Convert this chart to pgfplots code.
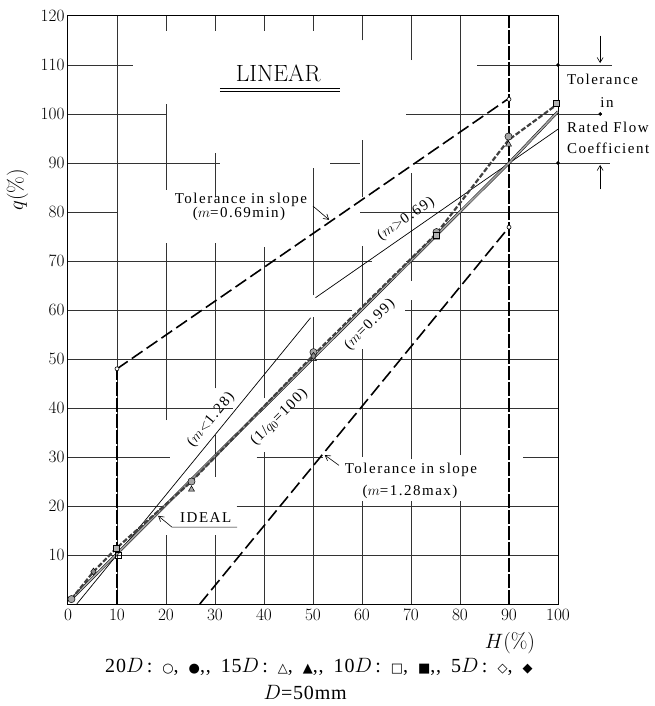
\documentclass[border=0pt]{standalone}
\usepackage{fontspec}
\usepackage{pgfplots}
\pgfplotsset{compat=1.18}
\usetikzlibrary{arrows.meta}
\newfontfamily\sym{DejaVu Sans}
\newfontfamily\annfont{Liberation Serif}[LetterSpace=10]
\newfontfamily\capfont{Liberation Serif}[LetterSpace=4]
\newcommand\ann{\annfont\fontsize{15}{17}\selectfont}
\newcommand\hseg[3]{\draw[gl] (axis cs:#2,#1) -- (axis cs:#3,#1);}
\newcommand\vseg[3]{\draw[gl] (axis cs:#1,#2) -- (axis cs:#1,#3);}
\newcommand\sy[1]{{\sym\fontsize{13}{14}\selectfont #1}}
\tikzset{gl/.style={line width=0.6pt, black!80},
  barb/.style={-{Straight Barb[length=5pt,width=6pt]}, line width=0.6pt}}
\begin{document}
\begin{tikzpicture}
\begin{axis}[
  scale only axis, width=490pt, height=588pt,
  xmin=0, xmax=100, ymin=0, ymax=120,
  xtick={0,10,...,100}, ytick={10,20,...,120},
  major tick length=0pt,
  axis line style={line width=1pt},
  tick label style={font=\fontsize{17.5}{20}\selectfont},
  xticklabel style={yshift=-2pt},
  clip=false,
]
% ---- grid (with the gaps of the reference) ----
\hseg{10}{0}{100}
\hseg{20}{0}{20}\hseg{20}{34.4}{100}
\hseg{30}{0}{20.8}\hseg{30}{38.5}{52}\hseg{30}{92.9}{100}
\hseg{40}{0}{33.7}\hseg{40}{45.3}{100}
\hseg{50}{0}{100}
\hseg{60}{0}{58}\hseg{60}{68.8}{100}
\hseg{70}{0}{62}\hseg{70}{69}{100}
\hseg{80}{0}{10.3}\hseg{80}{59.6}{100}
\hseg{90}{0}{31}\hseg{90}{53.5}{59.6}\hseg{90}{70.4}{110.6}
\hseg{100}{0}{20}\hseg{100}{69}{109}
\hseg{110}{0}{13.3}\hseg{110}{83.5}{111}
\vseg{10}{0}{120}
\vseg{20}{0}{14}\vseg{20}{37.5}{73.7}\vseg{20}{84.5}{102}\vseg{20}{117}{120}
\vseg{30}{0}{14}\vseg{30}{26}{34.5}\vseg{30}{44}{73.7}\vseg{30}{83}{92}\vseg{30}{117}{120}
\vseg{40}{0}{31}\vseg{40}{42}{72.9}\vseg{40}{117}{120}
\vseg{50}{0}{58.6}\vseg{50}{63}{89}\vseg{50}{117}{120}
\vseg{60}{0}{21}\vseg{60}{30}{52}\vseg{60}{60}{73}\vseg{60}{83}{94.7}\vseg{60}{115}{120}
\vseg{70}{0}{21}\vseg{70}{29.5}{62}\vseg{70}{66}{88}\vseg{70}{111}{120}
\vseg{80}{0}{21}\vseg{80}{30.4}{120}
% ---- tolerance limits ----
\addplot[black, line width=1.4pt, dash pattern=on 14pt off 2pt] coordinates {(10,0) (10,48)};
\addplot[black, line width=1.2pt, dash pattern=on 14pt off 2pt] coordinates {(90,0) (90,120)};
\addplot[black, line width=1.6pt, dash pattern=on 13pt off 5pt] coordinates {(10,48) (89.7,103)};
\addplot[black, line width=1.6pt, dash pattern=on 13pt off 5pt] coordinates {(26.9,0) (90,76.9)};
\addplot[only marks, mark=*, mark size=2pt, mark options={fill=white, draw=black, line width=0.6pt}] coordinates {(10,48) (90,103) (90,76.9)};
% ---- slope lines ----
\addplot[black, line width=0.7pt] coordinates {(1.8,0) (49.5,58.4)};
\addplot[black, line width=0.7pt] coordinates {(50.5,62.5) (100,96.9)};
% ---- ideal line (m=0.99) ----
\addplot[black, line width=0.5pt, double=black!35, double distance=1.6pt] coordinates {(0.7,1) (90,90) (100,100.5)};
% ---- measured data ----
\addplot[black!75, line width=2.2pt, dash pattern=on 5pt off 2pt] coordinates {(0.7,1) (5.2,6.6) (9.9,11.4) (25.2,25) (50.1,50.8) (75.2,75.6) (89.9,94.7) (99.6,101.8)};
\addplot[only marks, mark=*, mark size=3.6pt, mark options={fill=black!35, draw=black, line width=0.5pt}] coordinates {(0.7,1) (25.2,25) (50.1,51.4) (75.2,75.9) (89.9,95.4)};
\addplot[only marks, mark=triangle*, mark size=3.4pt, mark options={fill=black!35, draw=black, line width=0.5pt}] coordinates {(25.2,23.4) (50.1,50) (75.2,74.8) (89.9,93.8)};
\addplot[only marks, mark=square*, mark size=3pt, mark options={fill=black!30, draw=black, line width=0.5pt}] coordinates {(9.9,11.4) (75.2,75.2) (99.6,102.2)};
\addplot[only marks, mark=square, mark size=2.8pt, mark options={fill=white, draw=black, line width=0.6pt}] coordinates {(10.3,10)};
\addplot[only marks, mark=diamond*, mark size=3.6pt, mark options={fill=black!45, draw=black, line width=0.5pt}] coordinates {(5.2,6.6) (50.1,50.6)};
% ---- right annotation ----
\addplot[only marks, mark=*, mark size=1.6pt, black] coordinates {(100,110) (108.6,100) (100,90)};
\draw[barb] (axis cs:108.6,116) -- (axis cs:108.6,110.4);
\draw[barb] (axis cs:108.6,84.6) -- (axis cs:108.6,89.6);
\node[font=\ann, anchor=west, inner sep=0pt] at (axis cs:101.8,107) {Tolerance};
\node[font=\ann, inner sep=0pt] at (axis cs:110,102.4) {in};
\node[font=\ann, anchor=west, inner sep=0pt] at (axis cs:101.8,97.3) {Rated Flow};
\node[font=\ann, anchor=west, inner sep=0pt] at (axis cs:101.8,93) {Coefficient};
% ---- text labels ----
\node[font=\fontsize{23.5}{26}\selectfont, inner sep=0pt] at (axis cs:42.9,108.3) {LINEAR};
\draw[line width=0.6pt] (axis cs:31,105.3) -- (axis cs:55.5,105.3);
\draw[line width=0.6pt] (axis cs:31,104.7) -- (axis cs:55.5,104.7);
\node[font=\ann, inner sep=0pt] at (axis cs:35.3,82.4) {Tolerance in slope};
\node[font=\ann, inner sep=0pt] at (axis cs:34.9,79.7) {($m$=0.69min)};
\draw[barb] (axis cs:50,81.2) -- (axis cs:53.3,78.4);
\node[font=\ann, inner sep=0pt] at (axis cs:70,27.3) {Tolerance in slope};
\node[font=\ann, inner sep=0pt] at (axis cs:69.8,22.9) {($m$=1.28max)};
\draw[barb] (axis cs:55.3,28.3) -- (axis cs:52.4,30.4);
\node[font=\ann, rotate=34.6, inner sep=0pt] at (axis cs:69,78.6) {($m{>}$0.69)};
\node[font=\ann, rotate=50.7, inner sep=0pt] at (axis cs:29.2,37.6) {($m{<}$1.28)};
\node[font=\ann, rotate=45, inner sep=0pt] at (axis cs:43.1,38.1) {(1/$q_0$=100)};
\node[font=\ann, rotate=45, inner sep=0pt] at (axis cs:61.6,57) {($m$=0.99)};
\node[font=\ann, inner sep=0pt] at (axis cs:28.1,17.6) {IDEAL};
\draw[barb] (axis cs:34.5,15.7) -- (axis cs:21.2,15.7) -- (axis cs:18.4,18);
% ---- axis labels and caption ----
\node[font=\fontsize{21.5}{24}\selectfont, rotate=90] at (axis cs:-10.3,84.5) {$q$(\%)};
\node[font=\fontsize{21.5}{24}\selectfont] at (axis cs:90.2,-8) {$H$(\%)};
\node[font=\capfont\fontsize{20}{22}\selectfont] at (axis cs:51.2,-12.9) {20$D$\,:\enspace\sy{○},\enspace\sy{●},,\enspace15$D$\,:\enspace\sy{△},\enspace\sy{▲},,\enspace10$D$\,:\enspace\sy{□},\enspace\sy{■},,\enspace5$D$\,:\enspace\sy{◇},\enspace\sy{◆}};
\node[font=\capfont\fontsize{20}{22}\selectfont] at (axis cs:48.4,-18) {$D$=50mm};
\end{axis}
\pgfresetboundingbox
\path (-68pt,-102pt) rectangle (587pt,604pt);
\end{tikzpicture}
\end{document}
